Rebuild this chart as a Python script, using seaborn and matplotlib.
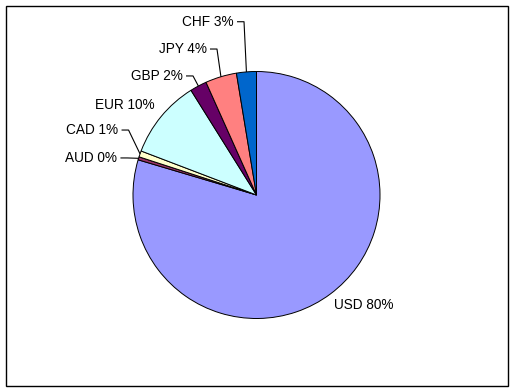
import numpy as np
import matplotlib
matplotlib.use("Agg")
import matplotlib.pyplot as plt
from matplotlib.patches import Rectangle
import seaborn as sns

# --- data ---
currencies = ["USD", "AUD", "CAD", "EUR", "GBP", "JPY", "CHF"]
shares = [79.6, 0.4, 0.8, 10.3, 2.2, 4.1, 2.6]
colors = ["#9999FF", "#993366", "#FFFFCC", "#CCFFFF", "#660066", "#FF8080", "#0066CC"]
label_texts = ["USD 80%", "AUD 0%", "CAD 1%", "EUR 10%", "GBP 2%", "JPY 4%", "CHF 3%"]

# --- layout: label anchor (x, y, ha) in data units, and whether a leader line is drawn ---
label_pos = {
    "USD": (0.630, -0.891, "left", False),
    "AUD": (-1.126, 0.300, "right", True),
    "CAD": (-1.117, 0.526, "right", True),
    "EUR": (-0.822, 0.729, "right", False),
    "GBP": (-0.595, 0.964, "right", True),
    "JPY": (-0.401, 1.182, "right", True),
    "CHF": (-0.182, 1.403, "right", True),
}

sns.set_theme(style="white")
plt.rcParams["font.family"] = ["Liberation Sans", "DejaVu Sans"]

W, H = 516, 392
fig = plt.figure(figsize=(W / 100, H / 100), dpi=100)
fig.patch.set_facecolor("white")
ax = fig.add_axes([0, 0, 1, 1])

R = 123.5          # pie radius in pixels
cx, cy = 256.5, 197  # pie centre (pixels from left / bottom)

wedges, _ = ax.pie(shares, colors=colors, startangle=90, counterclock=False,
                   wedgeprops=dict(edgecolor="black", linewidth=0.7))

ax.set_xlim(-cx / R, (W - cx) / R)
ax.set_ylim(-cy / R, (H - cy) / R)
ax.set_aspect("auto")
ax.axis("off")

px = 1 / R  # one pixel in data units
for w, cur, txt in zip(wedges, currencies, label_texts):
    x, y, ha, leader = label_pos[cur]
    ax.text(x, y, txt, ha=ha, va="center", fontsize=9.8, color="black")
    if leader:
        mid = np.deg2rad((w.theta1 + w.theta2) / 2)
        ax_, ay_ = np.cos(mid), np.sin(mid)
        x0 = x + 3 * px
        x1 = x + 10 * px
        ax.plot([x0, x1, ax_], [y, y, ay_], color="black", lw=0.8,
                solid_capstyle="butt")

# outer chart frame
fig.patches.append(Rectangle((6 / W, 6 / H), 502 / W, 380 / H, transform=fig.transFigure,
                             fill=False, edgecolor="black", linewidth=1.0))

fig.savefig("out.png", dpi=100)
